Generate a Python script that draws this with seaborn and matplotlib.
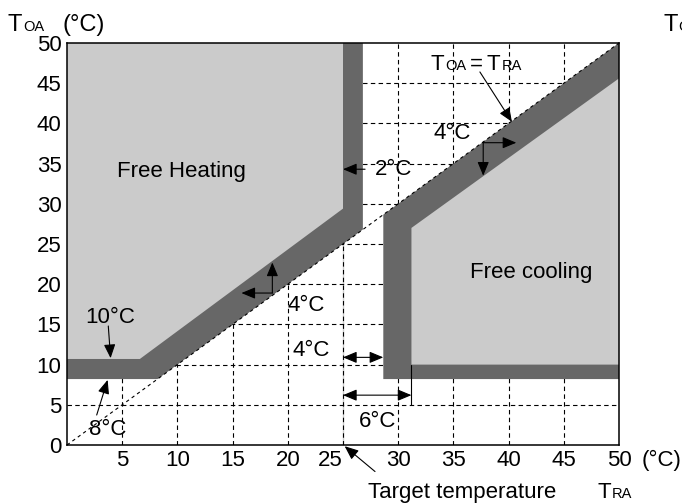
import matplotlib
matplotlib.use("Agg")
import matplotlib.pyplot as plt
import seaborn as sns
import numpy as np

# ---------------- data ----------------
grid_ticks = [0, 5, 10, 15, 20, 25, 30, 35, 40, 45, 50]
x_ticks = [5, 10, 15, 20, 25, 30, 35, 40, 45, 50]
x_tick_labels = ["5", "10", "15", "20", "25", "30", "35", "40", "45", "50"]
y_ticks = [0, 5, 10, 15, 20, 25, 30, 35, 40, 45, 50]
y_tick_labels = ["0", "5", "10", "15", "20", "25", "30", "35", "40", "45", "50"]

# equality line T_OA = T_RA
diag_x = [0, 50]
diag_y = [0, 50]

# target temperature line
target_x = [25, 25]
target_y = [0, 25.2]

# free heating region (outer dark band, inner light area)
heat_dark_x = [0, 0, 8.2, 26.8, 26.8]
heat_dark_y = [50, 8.2, 8.2, 26.8, 50]
heat_light_x = [0, 0, 6.6, 25.0, 25.0]
heat_light_y = [50, 10.7, 10.7, 29.4, 50]

# free cooling region
cool_dark_x = [28.65, 50, 50, 28.65]
cool_dark_y = [28.65, 50, 8.2, 8.2]
cool_light_x = [31.2, 50, 50, 31.2]
cool_light_y = [27.0, 45.6, 10.0, 10.0]

LIGHT = "#cbcbcb"
DARK = "#676767"

W, H = 682, 504
sns.set_theme(style="white")
plt.rcParams["font.family"] = ["Liberation Sans", "DejaVu Sans"]
plt.rcParams["text.color"] = "black"

fig = plt.figure(figsize=(W / 100, H / 100), dpi=100)
ax = fig.add_axes([67 / W, 1 - 445 / H, (619 - 67) / W, (445 - 43) / H])
ax.set_xlim(0, 50)
ax.set_ylim(0, 50)

# grid behind the regions
ax.set_axisbelow(True)
for g in grid_ticks[1:-1]:
    ax.axvline(g, color="black", lw=0.8, ls=(0, (4, 3)), zorder=0.5)
    ax.axhline(g, color="black", lw=0.8, ls=(0, (4, 3)), zorder=0.5)

ax.fill(heat_dark_x, heat_dark_y, color=DARK, lw=0, zorder=1)
ax.fill(heat_light_x, heat_light_y, color=LIGHT, lw=0, zorder=1.1)
ax.fill(cool_dark_x, cool_dark_y, color=DARK, lw=0, zorder=1)
ax.fill(cool_light_x, cool_light_y, color=LIGHT, lw=0, zorder=1.1)

sns.lineplot(x=diag_x, y=diag_y, ax=ax, color="black", lw=0.8,
             linestyle=(0, (3, 3)), zorder=2)
sns.lineplot(x=target_x, y=target_y, ax=ax, color="black", lw=1.6, zorder=3)
# dimension reference line for 6°C
ax.plot([31.2, 31.2], [10.0, 5.0], color="black", lw=0.8, zorder=3)

for s in ax.spines.values():
    s.set_color("black")
    s.set_linewidth(1.1)
    s.set_zorder(5)

FS = 16
SUB = 10.5

ax.set_xticks(x_ticks)
ax.set_xticklabels([("" if l == "25" else l) for l in x_tick_labels])
ax.set_yticks(y_ticks)
ax.set_yticklabels(y_tick_labels)
ax.tick_params(axis="both", length=0, labelsize=FS, colors="black")
ax.tick_params(axis="x", pad=3.5)
ax.tick_params(axis="y", pad=4)
ax.annotate("25", xy=(25, 0), xytext=(0, -4.8), textcoords="offset pixels",
            ha="right", va="top", fontsize=FS, annotation_clip=False)

AP = dict(arrowstyle="-|>,head_length=0.6,head_width=0.25", color="black",
          lw=0.8, shrinkA=0, shrinkB=0, mutation_scale=14)
AP2 = dict(arrowstyle="<|-|>,head_length=0.6,head_width=0.25", color="black",
           lw=0.8, shrinkA=0, shrinkB=0, mutation_scale=14)


def arrow(tail, head, props=AP):
    ax.annotate("", xy=head, xytext=tail, arrowprops=props,
                annotation_clip=False, zorder=6)


ax.text(10.4, 33.3, "Free Heating", fontsize=FS, ha="center", va="baseline")
ax.text(42.07, 20.8, "Free cooling", fontsize=FS, ha="center", va="baseline")

ax.text(34.9, 38.1, "4°C", fontsize=FS, ha="center", va="baseline")
ax.text(29.6, 33.6, "2°C", fontsize=FS, ha="center", va="baseline")
ax.text(21.7, 16.7, "4°C", fontsize=FS, ha="center", va="baseline")
ax.text(22.1, 11.1, "4°C", fontsize=FS, ha="center", va="baseline")
ax.text(3.9, 15.2, "10°C", fontsize=FS, ha="center", va="baseline")
ax.text(3.68, 1.24, "8°C", fontsize=FS, ha="center", va="baseline")
ax.text(28.1, 2.28, "6°C", fontsize=FS, ha="center", va="baseline")

arrow((37.4, 46.4), (40.3, 40.2))
arrow((37.7, 37.6), (40.7, 37.6))
arrow((37.7, 37.6), (37.7, 33.5))
arrow((27.0, 34.3), (25.0, 34.3))
arrow((18.6, 18.9), (18.6, 22.7))
arrow((18.6, 18.9), (15.8, 18.9))
arrow((3.74, 14.8), (3.95, 10.8))
arrow((2.69, 3.73), (3.68, 8.1))
arrow((25.0, 10.9), (28.65, 10.9), AP2)
arrow((25.0, 6.2), (31.2, 6.2), AP2)
arrow((27.9, -3.3), (25.15, -0.15))

# ---------------- text with small subscripts ----------------
renderer = fig.canvas.get_renderer()


def chain(x_px, y_base_px, pieces):
    x = x_px
    for s, size, gap in pieces:
        x += gap
        t = fig.text(x / W, 1 - y_base_px / H, s, fontsize=size,
                     ha="left", va="baseline")
        bb = t.get_window_extent(renderer)
        x = bb.x1


chain(8, 31, [("T", 17, 0), ("OA", 10.5, 1)])
fig.text(62 / W, 1 - 31 / H, "(°C)", fontsize=17, ha="left", va="baseline")
chain(663, 31, [("T", 17, 0), ("OA", 10.5, 1)])

# T_OA = T_RA label inside the chart
x0 = ax.transData.transform((32.9, 46.7))
chain(x0[0], H - x0[1], [("T", FS, 0), ("OA", SUB, 1), ("=", FS, 4),
                          ("T", FS, 4), ("RA", SUB, 1)])

fig.text(642 / W, 1 - 466 / H, "(°C)", fontsize=FS, ha="left", va="baseline")
fig.text(368 / W, 1 - 498 / H, "Target temperature", fontsize=FS,
         ha="left", va="baseline")
chain(597, 498, [("T", FS, 0), ("RA", SUB, 1)])

fig.savefig("out.png", dpi=100)
